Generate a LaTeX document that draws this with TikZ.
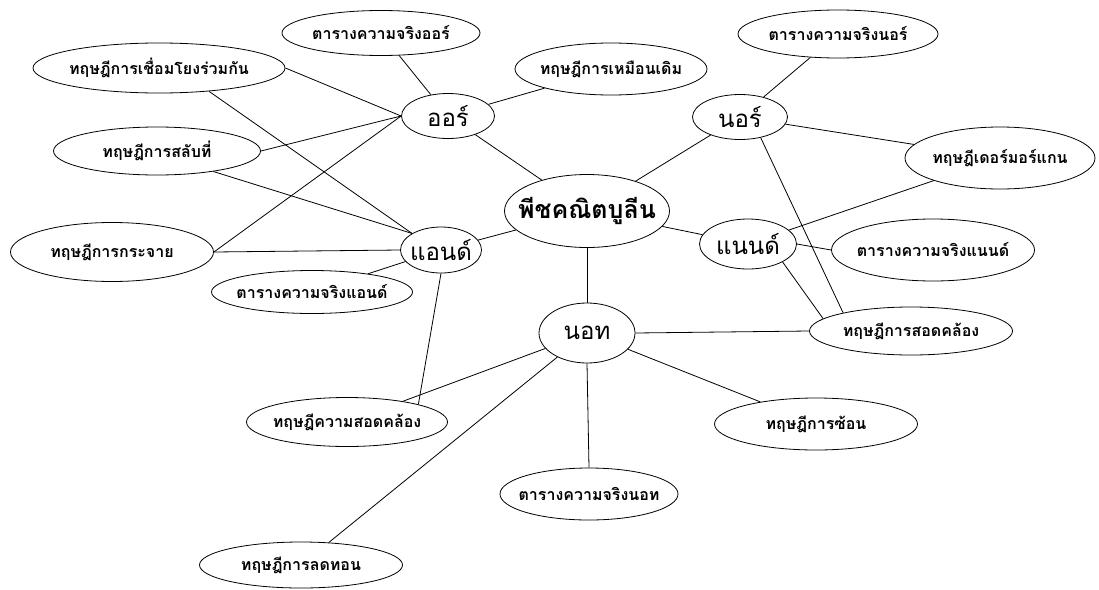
\documentclass[tikz,border=0pt]{standalone}
\usepackage{fontspec}
\newfontfamily\thaifont[Script=Thai]{Loma}
\usetikzlibrary{shapes.geometric}

\newcommand{\ovaltext}[1]{\makebox[0pt][c]{#1}}
\tikzset{
  bubble/.style={draw, ellipse, inner sep=0pt, line width=0.8pt,
    font=\thaifont\bfseries\fontsize{16}{19}\selectfont},
  gatebubble/.style={bubble, font=\thaifont\fontsize{24}{27}\selectfont},
  link/.style={line width=0.8pt}
}

\begin{document}
\begin{tikzpicture}[x=1pt, y=-1pt]
  \useasboundingbox (0,0) rectangle (1099,589);
  % centre and gates
  \node[bubble, minimum width=165, minimum height=73,
        font=\thaifont\bfseries\fontsize{25}{29}\selectfont] (bool) at (587,211) {\ovaltext{พีชคณิตบูลีน}};
  \node[gatebubble, minimum width=93, minimum height=45] (gor) at (448,116) {\ovaltext{ออร์}};
  \node[gatebubble, minimum width=81, minimum height=46] (gand) at (441,250) {\ovaltext{แอนด์}};
  \node[gatebubble, minimum width=95, minimum height=45] (gnor) at (740,117) {\ovaltext{นอร์}};
  \node[gatebubble, minimum width=97, minimum height=50] (gnand) at (748,244) {\ovaltext{แนนด์}};
  \node[gatebubble, minimum width=96, minimum height=60] (gnot) at (587,333) {\ovaltext{นอท}};
  % leaves
  \node[bubble, minimum width=198, minimum height=45] (ttor) at (381,33) {\ovaltext{ตารางความจริงออร์}};
  \node[bubble, minimum width=192, minimum height=52] (ident) at (611,69) {\ovaltext{ทฤษฎีการเหมือนเดิม}};
  \node[bubble, minimum width=252, minimum height=50] (assoc) at (159,68) {\ovaltext{ทฤษฎีการเชื่อมโยงร่วมกัน}};
  \node[bubble, minimum width=207, minimum height=48] (commu) at (157,151) {\ovaltext{ทฤษฎีการสลับที่}};
  \node[bubble, minimum width=203, minimum height=59] (distr) at (112,252) {\ovaltext{ทฤษฎีการกระจาย}};
  \node[bubble, minimum width=201, minimum height=43] (ttand) at (312,292) {\ovaltext{ตารางความจริงแอนด์}};
  \node[bubble, minimum width=201, minimum height=49] (consl) at (347,422) {\ovaltext{ทฤษฎีความสอดคล้อง}};
  \node[bubble, minimum width=178, minimum height=52] (ttnot) at (589,494) {\ovaltext{ตารางความจริงนอท}};
  \node[bubble, minimum width=203, minimum height=46] (reduc) at (301,565) {\ovaltext{ทฤษฎีการลดทอน}};
  \node[bubble, minimum width=203, minimum height=52] (invol) at (816,424) {\ovaltext{ทฤษฎีการซ้อน}};
  \node[bubble, minimum width=203, minimum height=48] (consr) at (911,331) {\ovaltext{ทฤษฎีการสอดคล้อง}};
  \node[bubble, minimum width=203, minimum height=62] (ttnand) at (933,250) {\ovaltext{ตารางความจริงแนนด์}};
  \node[bubble, minimum width=190, minimum height=62] (demor) at (1000,158) {\ovaltext{ทฤษฎีเดอร์มอร์แกน}};
  \node[bubble, minimum width=200, minimum height=48] (ttnor) at (838,34) {\ovaltext{ตารางความจริงนอร์}};
  % connectors
  \foreach \g in {gor,gand,gnor,gnand}
    \draw[link] (bool) -- (\g);
  \draw[link] (bool.south) -- (gnot.north);
  \draw[link] (gor) -- (ttor);
  \draw[link] (gor) -- (ident);
  \foreach \leaf in {assoc,commu,distr}
    \draw[link] (gor.west) -- (\leaf.east);
  \draw[link] (gand.north west) -- (assoc.-25);
  \draw[link] (gand.north west) -- (commu.-20);
  \draw[link] (gand.west) -- (distr.east);
  \draw[link] (gand) -- (ttand);
  \draw[link] (gand.south) -- (consl.north east);
  \foreach \leaf in {consl,reduc,invol}
    \draw[link] (gnot) -- (\leaf);
  \draw[link] (gnot.south) -- (ttnot.north);
  \draw[link] (gnot.east) -- (consr.west);
  \draw[link] (gnor) -- (ttnor);
  \draw[link] (gnor) -- (demor);
  \draw[link] (gnor.-45) -- (consr.165);
  \draw[link] (gnand) -- (demor);
  \draw[link] (gnand.east) -- (ttnand.west);
  \draw[link] (gnand.south east) -- (consr.172);
\end{tikzpicture}
\end{document}
